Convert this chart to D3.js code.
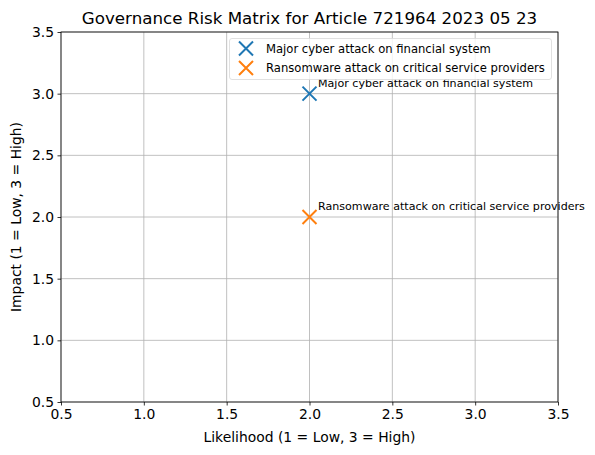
<!DOCTYPE html>
<html><head><meta charset="utf-8">
<script src="https://cdn.jsdelivr.net/npm/d3@7"></script>
<style>body{margin:0;background:#fff}svg{display:block;font-family:"DejaVu Sans",sans-serif}</style>
</head><body><svg id="c" width="595" height="455"></svg>
<script>
const risks = ["Major cyber attack on financial system", "Ransomware attack on critical service providers"];
const likelihood = [2, 2];
const impact = [3, 2];
const colors = ["#1f77b4", "#ff7f0e"];
const xTicks = [0.5, 1.0, 1.5, 2.0, 2.5, 3.0, 3.5];
const yTicks = [0.5, 1.0, 1.5, 2.0, 2.5, 3.0, 3.5];
const title = "Governance Risk Matrix for Article 721964 2023 05 23";
const xLabel = "Likelihood (1 = Low, 3 = High)";
const yLabel = "Impact (1 = Low, 3 = High)";

const svg = d3.select("#c");
const L = 61, R = 558, T = 32, B = 402;
const x = d3.scaleLinear().domain([0.5, 3.5]).range([L, R]);
const y = d3.scaleLinear().domain([0.5, 3.5]).range([B, T]);

// grid
svg.append("g").selectAll("line").data(xTicks).join("line")
  .attr("x1", d => x(d)).attr("x2", d => x(d)).attr("y1", T).attr("y2", B)
  .attr("stroke", "#b0b0b0").attr("stroke-width", 0.8);
svg.append("g").selectAll("line").data(yTicks).join("line")
  .attr("y1", d => y(d)).attr("y2", d => y(d)).attr("x1", L).attr("x2", R)
  .attr("stroke", "#b0b0b0").attr("stroke-width", 0.8);

// axes
const xa = svg.append("g").attr("transform", `translate(0,${B})`)
  .call(d3.axisBottom(x).tickValues(xTicks).tickFormat(d3.format(".1f")).tickSize(3.5).tickPadding(3.5));
const ya = svg.append("g").attr("transform", `translate(${L},0)`)
  .call(d3.axisLeft(y).tickValues(yTicks).tickFormat(d3.format(".1f")).tickSize(3.5).tickPadding(3.5));
[xa, ya].forEach(a => {
  a.select(".domain").remove();
  a.selectAll("text").attr("font-size", 13.9).attr("fill", "#000").attr("font-family", "DejaVu Sans");
  a.selectAll("line").attr("stroke", "#000").attr("stroke-width", 0.8);
});
svg.append("rect").attr("x", L).attr("y", T).attr("width", R - L).attr("height", B - T)
  .attr("fill", "none").attr("stroke", "#000").attr("stroke-width", 0.8);

// markers
const m = 7;
function cross(g, cx, cy, col, s) {
  g.append("path").attr("d", `M${cx - s},${cy - s}L${cx + s},${cy + s}M${cx - s},${cy + s}L${cx + s},${cy - s}`)
    .attr("stroke", col).attr("stroke-width", 2).attr("fill", "none");
}
risks.forEach((r, i) => {
  cross(svg, x(likelihood[i]), y(impact[i]), colors[i], m);
  svg.append("text").attr("x", x(likelihood[i]) + 8.5).attr("y", y(impact[i]) - 7)
    .attr("font-size", 11.1).attr("fill", "#000").text(r);
});

// legend
const lg = svg.append("g");
lg.append("rect").attr("x", 229.5).attr("y", 38.5).attr("width", 322).attr("height", 41).attr("rx", 2.5)
  .attr("fill", "#fff").attr("fill-opacity", 0.8).attr("stroke", "#d9d9d9").attr("stroke-width", 0.8);
risks.forEach((r, i) => {
  const cy = 48.5 + i * 19.5;
  cross(lg, 246, cy, colors[i], m);
  lg.append("text").attr("x", 266).attr("y", cy + 4.2).attr("font-size", 11.6).attr("fill", "#000").text(r);
});

// title & labels
svg.append("text").attr("x", (L + R) / 2).attr("y", 24).attr("text-anchor", "middle")
  .attr("font-size", 16.7).attr("fill", "#000").text(title);
svg.append("text").attr("x", (L + R) / 2).attr("y", 442).attr("text-anchor", "middle")
  .attr("font-size", 13.9).attr("fill", "#000").text(xLabel);
svg.append("text").attr("transform", `translate(21,${(T + B) / 2}) rotate(-90)`).attr("text-anchor", "middle")
  .attr("font-size", 13.9).attr("fill", "#000").text(yLabel);
</script></body></html>
